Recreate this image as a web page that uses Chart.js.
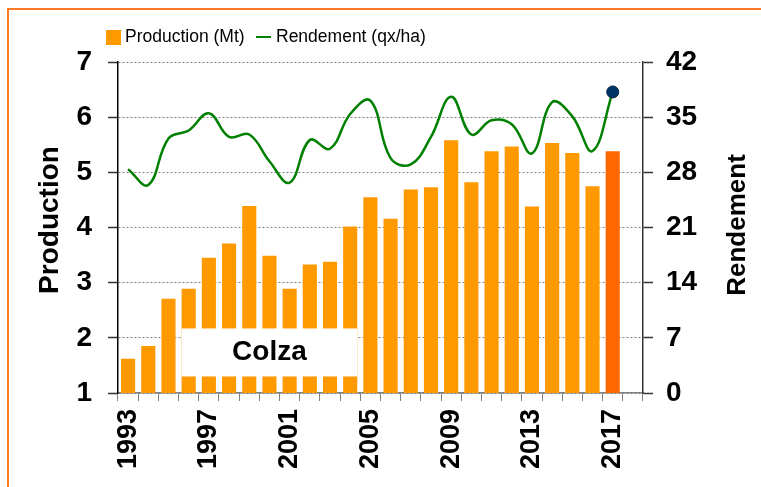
<!DOCTYPE html>
<html>
<head>
<meta charset="utf-8">
<script src="https://cdn.jsdelivr.net/npm/chart.js@4/dist/chart.umd.min.js"></script>
<style>
  html, body { margin: 0; padding: 0; background: #fff; overflow: hidden; }
  #wrap { position: relative; width: 761px; height: 487px; }
  #frame { position: absolute; left: 7px; top: 8px; width: 800px; height: 600px;
           border-left: 2px solid #ff7a26; border-top: 2px solid #ff7a26; pointer-events: none; }
</style>
</head>
<body>
<div id="wrap">
  <canvas id="chart" width="761" height="487"></canvas>
  <div id="frame"></div>
</div>
<script>
var years = [1993,1994,1995,1996,1997,1998,1999,2000,2001,2002,2003,2004,2005,
             2006,2007,2008,2009,2010,2011,2012,2013,2014,2015,2016,2017,2018];
// Mt
var production = [1.62,1.85,2.71,2.89,3.45,3.71,4.39,3.49,2.89,3.33,3.38,4.02,4.55,
                  4.16,4.69,4.73,5.58,4.82,5.38,5.47,4.38,5.53,5.35,4.75,5.38];
// qx/ha
var rendement = [28.4,26.4,32.3,33.3,35.5,32.5,32.8,29.4,26.7,32.1,31.0,35.4,37.1,
                 29.8,29.0,32.5,37.6,32.8,34.6,34.1,30.4,36.9,35.1,30.7,38.2];
var leftTicks = [1,2,3,4,5,6,7];
var rightTicks = [0,7,14,21,28,35,42];
var boxLabel = 'Colza';

var lastIdx = production.length - 1;

var FONT = "'Liberation Sans', Arial, sans-serif";

// legend, axis titles, label box
var extrasPlugin = {
    id: 'extras',
    afterDatasetsDraw(chart) {
        var ctx = chart.ctx;
        var meta = chart.getDatasetMeta(0);
        var yl = chart.scales.y;
        var b1 = meta.data[3], b2 = meta.data[11];
        var x1 = b1.x - b1.width / 2, x2 = b2.x + b2.width / 2;
        var top = yl.getPixelForValue(2.17), bot = yl.getPixelForValue(1.3);
        ctx.save();
        ctx.fillStyle = '#fff';
        ctx.fillRect(x1, top, x2 - x1, bot - top);
        ctx.fillStyle = '#000';
        ctx.font = 'bold 28px ' + FONT;
        ctx.textAlign = 'center';
        ctx.textBaseline = 'middle';
        ctx.fillText(boxLabel, (x1 + x2) / 2, (top + bot) / 2);
        ctx.restore();
    },
    afterDraw(chart) {
        var ctx = chart.ctx;
        ctx.save();
        // legend
        var ds = chart.data.datasets;
        ctx.font = '17.5px ' + FONT;
        ctx.textBaseline = 'middle';
        ctx.textAlign = 'left';
        var ly = 37;
        ctx.fillStyle = ds[0].backgroundColor[0];
        ctx.fillRect(106, ly - 7, 15, 15);
        ctx.fillStyle = '#000';
        ctx.fillText(ds[0].label, 125, ly);
        ctx.strokeStyle = ds[1].borderColor;
        ctx.lineWidth = 2;
        ctx.beginPath();
        ctx.moveTo(256, ly);
        ctx.lineTo(271, ly);
        ctx.stroke();
        ctx.fillText(ds[1].label, 276, ly);

        // axis titles
        var titles = [
            {text: chart.scales.y.options.title.text, x: 50, y: 220, size: 28},
            {text: chart.scales.y1.options.title.text, x: 738, y: 225, size: 26}
        ];
        titles.forEach(function(t) {
            ctx.save();
            ctx.translate(t.x, t.y);
            ctx.rotate(-Math.PI / 2);
            ctx.font = 'bold ' + t.size + 'px ' + FONT;
            ctx.fillStyle = '#000';
            ctx.textAlign = 'center';
            ctx.textBaseline = 'middle';
            ctx.fillText(t.text, 0, 0);
            ctx.restore();
        });
        ctx.restore();
    }
};

var barColors = production.map(function(v, i) {
    return i === lastIdx ? '#ff6600' : '#ff9900';
});

new Chart(document.getElementById('chart').getContext('2d'), {
    data: {
        labels: years,
        datasets: [{
            type: 'bar',
            label: 'Production (Mt)',
            data: production,
            backgroundColor: barColors,
            borderWidth: 0,
            barPercentage: 0.7,
            categoryPercentage: 1.0,
            yAxisID: 'y',
            order: 1
        }, {
            type: 'line',
            label: 'Rendement (qx/ha)',
            data: rendement,
            borderColor: '#008000',
            borderWidth: 2.5,
            tension: 0.4,
            fill: false,
            pointRadius: function(c) { return c.dataIndex === lastIdx ? 6 : 0; },
            pointBackgroundColor: '#003366',
            pointBorderColor: '#002244',
            pointBorderWidth: 1,
            yAxisID: 'y1',
            order: 0
        }]
    },
    options: {
        responsive: false,
        animation: false,
        layout: { padding: { top: 62, left: 0, right: 0, bottom: 0 } },
        plugins: {
            legend: { display: false },
            tooltip: { enabled: false }
        },
        scales: {
            x: {
                offset: true,
                afterFit: function(s) { s.height = 94; },
                grid: {
                    offset: true,
                    drawOnChartArea: false,
                    drawTicks: true,
                    tickLength: 8,
                    tickColor: '#808080',
                    tickWidth: 1
                },
                border: { color: '#808080', width: 1.5 },
                ticks: {
                    autoSkip: false,
                    minRotation: 90,
                    maxRotation: 90,
                    padding: 8,
                    color: '#000',
                    font: { family: FONT, size: 27, weight: 'bold' },
                    callback: function(v, i) {
                        var y = years[i];
                        return (y - 1993) % 4 === 0 ? String(y) : '';
                    }
                }
            },
            y: {
                position: 'left',
                min: 1,
                max: 7,
                afterFit: function(s) { s.width = 118; },
                afterBuildTicks: function(s) {
                    s.ticks = leftTicks.map(function(v) { return {value: v}; });
                },
                title: { display: false, text: 'Production' },
                grid: {
                    color: '#808080',
                    lineWidth: 1,
                    tickLength: 10,
                    tickColor: '#333',
                    tickWidth: 1.5
                },
                border: { color: '#000', width: 1.5, dash: [2, 2] },
                ticks: {
                    padding: 16,
                    color: '#000',
                    font: { family: FONT, size: 28, weight: 'bold' }
                }
            },
            y1: {
                position: 'right',
                min: 0,
                max: 42,
                afterFit: function(s) { s.width = 118; },
                afterBuildTicks: function(s) {
                    s.ticks = rightTicks.map(function(v) { return {value: v}; });
                },
                title: { display: false, text: 'Rendement' },
                grid: {
                    drawOnChartArea: false,
                    tickLength: 10,
                    tickColor: '#333',
                    tickWidth: 1.5
                },
                border: { color: '#333', width: 1.5 },
                ticks: {
                    padding: 13,
                    color: '#000',
                    font: { family: FONT, size: 28, weight: 'bold' }
                }
            }
        }
    },
    plugins: [extrasPlugin]
});
</script>
</body>
</html>
